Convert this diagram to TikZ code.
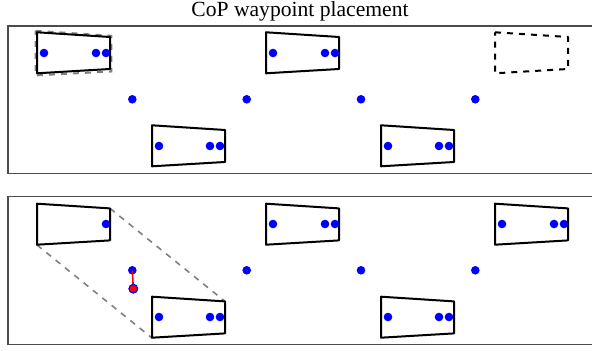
\documentclass[tikz,border=0pt]{standalone}
\usepackage{fontspec}
\setmainfont{Liberation Serif}
\usepackage{tikz}
\usetikzlibrary{calc}

\tikzset{
	frame/.style={draw=black!70, line width=0.6pt},
	foot/.style={draw=black, line width=1pt, line join=round},
	cop/.style={circle, fill=blue, inner sep=0pt, minimum size=4.3pt},
	shifted/.style={circle, fill=red, draw=blue, line width=0.5pt, inner sep=0pt, minimum size=4.3pt},
	hull/.style={draw=black!50, dashed, line width=0.8pt, dash pattern=on 3pt off 3pt},
}

% trapezoid footprint, #1 = style, (#2,#3) = top left corner
\newcommand{\footprint}[3]{\draw[#1] (#2,#3) -- ++(73,4.7) -- ++(0,32) -- ++(-73,4.3) -- cycle;}

\begin{document}
\begin{tikzpicture}[x=0.5pt, y=-0.5pt]
	\useasboundingbox (0,0) rectangle (592,351);

	\node (title) at (300,11) {\fontsize{10.8}{12}\selectfont CoP waypoint placement};

	% panels
	\draw[frame] (592.5,26) -- (8,26) -- (8,173.5) -- (592.5,173.5);		%top
	\draw[frame] (592.5,196.3) -- (8,196.3) -- (8,344.3) -- (592.5,344.3);	%bottom

	%%% top panel
	\draw[hull, line width=1pt] (35.6,30.8) -- (111.3,35.8) -- (111.3,71.5) -- (35.6,75.4) -- cycle;
	\footprint{foot}{37}{32.3}
	\footprint{foot}{266}{32.3}
	\footprint{foot, dashed, dash pattern=on 3pt off 3pt}{495}{32.3}
	\footprint{foot}{152}{125.3}
	\footprint{foot}{381}{125.3}

	\node[cop] (a1) at (44,53)    {};
	\node[cop] (a2) at (96,53)    {};
	\node[cop] (a3) at (106,53)   {};
	\node[cop] (b1) at (273,53)   {};
	\node[cop] (b2) at (325,53)   {};
	\node[cop] (b3) at (335,53)   {};
	\node[cop] (c1) at (159,146)  {};
	\node[cop] (c2) at (210,146)  {};
	\node[cop] (c3) at (220,146)  {};
	\node[cop] (d1) at (388,146)  {};
	\node[cop] (d2) at (439,146)  {};
	\node[cop] (d3) at (449,146)  {};

	\node[cop] (m1) at (132.3,99.3) {};
	\node[cop] (m2) at (246.7,99.3) {};
	\node[cop] (m3) at (361,99.3)   {};
	\node[cop] (m4) at (475.3,99.3) {};

	%%% bottom panel
	\coordinate (lftTR) at (110,208.4);	%left foot, top right
	\coordinate (lftBL) at (37,245);	%left foot, bottom left
	\coordinate (rgtTR) at (225,301.4);	%right foot, top right
	\coordinate (rgtBL) at (152,338);	%right foot, bottom left
	\draw[hull] (lftTR) -- (rgtTR);
	\draw[hull] (lftBL) -- (rgtBL);

	\footprint{foot}{37}{203.7}
	\footprint{foot}{266}{203.7}
	\footprint{foot}{495}{203.7}
	\footprint{foot}{152}{296.7}
	\footprint{foot}{381}{296.7}

	\node[cop] (e3) at (106,224)   {};
	\node[cop] (f1) at (273,224)   {};
	\node[cop] (f2) at (325,224)   {};
	\node[cop] (f3) at (335,224)   {};
	\node[cop] (g1) at (502,224)   {};
	\node[cop] (g2) at (554,224)   {};
	\node[cop] (g3) at (564,224)   {};
	\node[cop] (h1) at (159,317)   {};
	\node[cop] (h2) at (210,317)   {};
	\node[cop] (h3) at (220,317)   {};
	\node[cop] (k1) at (388,317)   {};
	\node[cop] (k2) at (439,317)   {};
	\node[cop] (k3) at (449,317)   {};

	\node[cop] (n1) at (132.3,270.3) {};
	\node[cop] (n2) at (246.7,270.3) {};
	\node[cop] (n3) at (361,270.3)   {};
	\node[cop] (n4) at (475.3,270.3) {};

	\node[shifted] (r1) at (133.3,288.7) {};
	\draw[red, line width=0.8pt] (n1.center) -- (r1.center);	%shift of waypoint
	\node[shifted] at (r1) {};
\end{tikzpicture}
\end{document}
